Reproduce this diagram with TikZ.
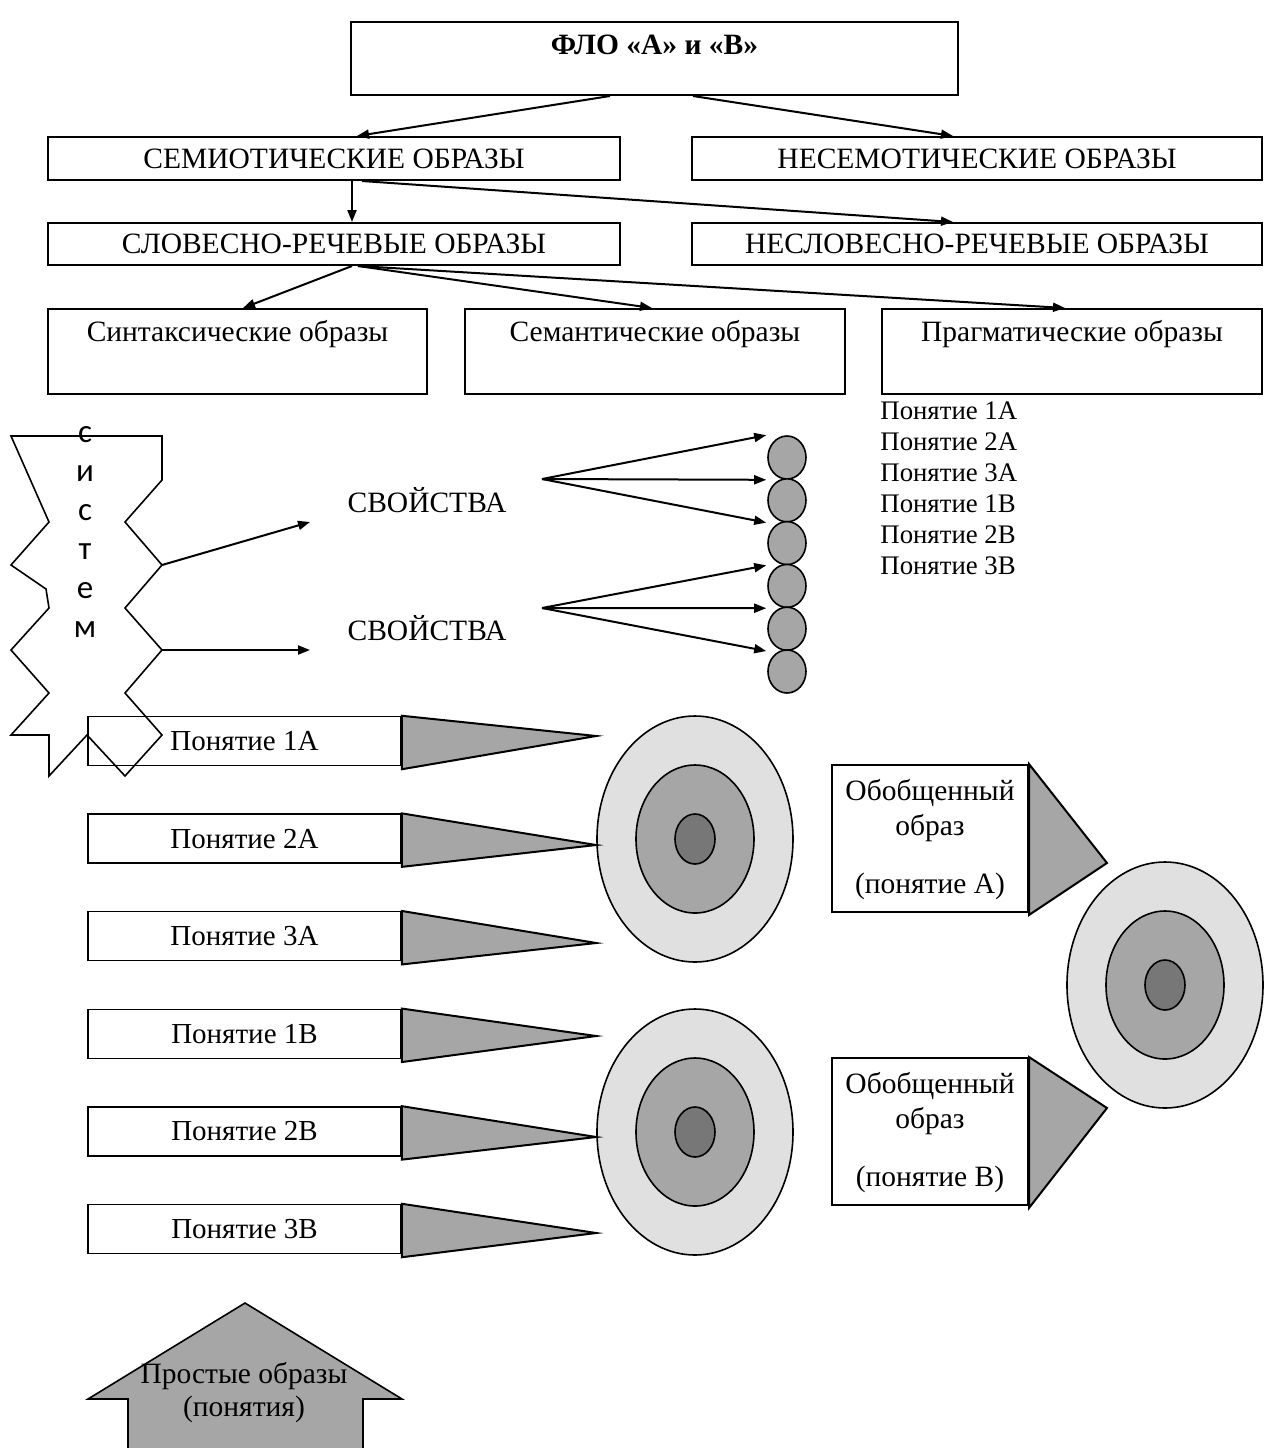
\documentclass[tikz,border=0pt]{standalone}
\usepackage{fontspec}
\setmainfont{Liberation Serif}
\newfontfamily\sansC{Carlito}
\usetikzlibrary{arrows.meta,shapes.geometric}
\definecolor{gLight}{RGB}{224,224,224}
\definecolor{gMid}{RGB}{166,166,166}
\definecolor{gDark}{RGB}{119,119,119}
\tikzset{
  box/.style={draw, line width=1pt, inner sep=0pt, font=\fontsize{14.75}{17}\selectfont},
  pbox/.style={draw, line width=0.75pt, inner sep=0pt, minimum width=156.5pt, minimum height=24.5pt, font=\fontsize{14.5}{17}\selectfont},
  txt/.style={inner sep=0pt, font=\fontsize{14.75}{17}\selectfont},
  smalltxt/.style={inner sep=0pt, font=\fontsize{13.4}{15.5}\selectfont},
  sanstxt/.style={inner sep=0pt, font=\sansC\fontsize{16.5}{19}\selectfont},
  arr/.style={line width=1pt, -{Triangle[length=6pt,width=4.5pt]}},
  tri/.style={draw, line width=1pt, fill=gMid, line join=miter},
  dotc/.style={ellipse, draw, line width=0.8pt, fill=gMid, inner sep=0pt, minimum width=19pt, minimum height=21.5pt},
  ringO/.style={ellipse, draw, line width=0.8pt, fill=gLight, inner sep=0pt, minimum width=98pt, minimum height=123pt},
  ringM/.style={ellipse, draw, line width=0.8pt, fill=gMid, inner sep=0pt, minimum width=59pt, minimum height=74pt},
  ringI/.style={ellipse, draw, line width=0.8pt, fill=gDark, inner sep=0pt, minimum width=20pt, minimum height=25pt},
}
\begin{document}
\begin{tikzpicture}[x=0.5pt,y=-0.5pt]
\useasboundingbox (0,0) rectangle (1268,1448);

% ---- hierarchy ----
\node[box, minimum width=303.5pt, minimum height=36.5pt] (flo) at (654.5,58.5) {};
\node[txt, font=\bfseries\fontsize{14.75}{17}\selectfont, anchor=base] (flot) at ([yshift=-16.5pt]flo.north) {ФЛО «А» и «В»};

\node[box, minimum width=286pt, minimum height=21.5pt] (sem) at (334,158.5) {СЕМИОТИЧЕСКИЕ ОБРАЗЫ};
\node[box, minimum width=285pt, minimum height=21.5pt] (nesem) at (977,158.5) {НЕСЕМОТИЧЕСКИЕ ОБРАЗЫ};
\node[box, minimum width=286pt, minimum height=21pt] (slov) at (334,244) {СЛОВЕСНО-РЕЧЕВЫЕ ОБРАЗЫ};
\node[box, minimum width=285pt, minimum height=21pt] (neslov) at (977,244) {НЕСЛОВЕСНО-РЕЧЕВЫЕ ОБРАЗЫ};

\node[box, minimum width=189.5pt, minimum height=42.5pt] (syn) at (237.5,351.5) {};
\node[box, minimum width=190pt, minimum height=42.5pt] (semant) at (655,351.5) {};
\node[box, minimum width=190pt, minimum height=42.5pt] (prag) at (1072,351.5) {};
\node[txt, anchor=base] (synt) at ([yshift=-16.5pt]syn.north) {Синтаксические образы};
\node[txt, anchor=base] (semantt) at ([yshift=-16.5pt]semant.north) {Семантические образы};
\node[txt, anchor=base] (pragt) at ([yshift=-16.5pt]prag.north) {Прагматические образы};

\draw[arr] ([xshift=-22.25pt]flo.south) -- ([xshift=11.5pt]sem.north);
\draw[arr] ([xshift=19.25pt]flo.south) -- ([xshift=-12pt]nesem.north);
\draw[arr] ([xshift=9pt]sem.south) -- ([xshift=9pt]slov.north);
\draw[arr] ([xshift=14pt]sem.south) -- ([xshift=-12pt]neslov.north);
\draw[arr] ([xshift=9pt]slov.south) -- ([xshift=2.75pt]syn.north);
\draw[arr] ([xshift=12pt]slov.south) -- ([xshift=-1.5pt]semant.north);
\draw[arr] ([xshift=12pt]slov.south) -- ([xshift=-3.5pt]prag.north);

% ---- list under pragmatic ----
\foreach \i/\t/\yy in {1/Понятие 1А/419, 2/Понятие 2А/450, 3/Понятие 3А/481, 4/Понятие 1В/512, 5/Понятие 2В/543, 6/Понятие 3В/574}
  \node[smalltxt, anchor=base west] (l\i) at (880,\yy) {\t};

% ---- jagged "system" shape ----
\draw[line width=0.8pt, line join=miter]
  (11,436) -- (162,436) -- (162,480) -- (125,522) -- (162,565) -- (125,608) -- (162,650)
  -- (125,693) -- (162,735) -- (125,776) -- (87,735) -- (49,776) -- (49,735) -- (11,735)
  -- (49,693) -- (11,650) -- (49,608) -- (46,589) -- (11,565) -- (49,522) -- cycle;
\foreach \i/\t/\yy in {1/с/442, 2/и/481, 3/с/520, 4/т/559, 5/е/598, 6/м/637}
  \node[sanstxt, anchor=base] (sl\i) at (85,\yy) {\t};

\coordinate (j1) at (162,565);
\coordinate (j2) at (162,650);
\coordinate (e1) at (310,522);
\coordinate (e2) at (310,650);
\node[txt, anchor=base] (sv1) at (427,512) {СВОЙСТВА};
\node[txt, anchor=base] (sv2) at (427,640) {СВОЙСТВА};
\draw[arr] (j1) -- (e1);
\draw[arr] (j2) -- (e2);

% ---- dots ----
\foreach \i/\yy in {1/457.5, 2/500.3, 3/543.1, 4/585.9, 5/628.7, 6/671.5}
  \node[dotc] (c\i) at (787,\yy) {};
\coordinate (s1) at (542,479);
\coordinate (s2) at (542,608);
\draw[arr] (s1) -- ([xshift=-0.5pt]c1.west |- c1.north);
\draw[arr] (s1) -- ([xshift=-0.5pt]c1.west |- c1.south);
\draw[arr] (s1) -- ([xshift=-0.5pt]c2.west |- c2.south);
\draw[arr] (s2) -- ([xshift=-0.5pt]c3.west |- c3.south);
\draw[arr] (s2) -- ([xshift=-0.5pt]c4.west |- c4.south);
\draw[arr] (s2) -- ([xshift=-0.5pt]c5.west |- c5.south);

% ---- targets ----
\node[ringO] (tA) at (695,839) {};
\node[ringM] (tAm) at (695,839) {};
\node[ringI] (tAi) at (695,839) {};
\node[ringO] (tB) at (695,1132) {};
\node[ringM] (tBm) at (695,1132) {};
\node[ringI] (tBi) at (695,1132) {};
\node[ringO] (tR) at (1165,985) {};
\node[ringM] (tRm) at (1165,985) {};
\node[ringI] (tRi) at (1165,985) {};

% ---- concept boxes ----
\node[pbox] (p1) at (244.5,741) {Понятие 1А};
\node[pbox] (p2) at (244.5,838.6) {Понятие 2А};
\node[pbox] (p3) at (244.5,936.2) {Понятие 3А};
\node[pbox] (p4) at (244.5,1033.8) {Понятие 1В};
\node[pbox] (p5) at (244.5,1131.4) {Понятие 2В};
\node[pbox] (p6) at (244.5,1229) {Понятие 3В};

\draw[tri] (p1.north east) -- ([yshift=51.5pt]tA.west) -- ([yshift=-1.5pt]p1.south east) -- cycle;
\draw[tri] (p2.north east) -- ([yshift=-3pt]tA.west) -- ([yshift=-1.5pt]p2.south east) -- cycle;
\draw[tri] (p3.north east) -- ([yshift=-52pt]tA.west) -- ([yshift=-1.5pt]p3.south east) -- cycle;
\draw[tri] (p4.north east) -- ([yshift=48pt]tB.west) -- ([yshift=-1.5pt]p4.south east) -- cycle;
\draw[tri] (p5.north east) -- ([yshift=-2.5pt]tB.west) -- ([yshift=-1.5pt]p5.south east) -- cycle;
\draw[tri] (p6.north east) -- ([yshift=-50.5pt]tB.west) -- ([yshift=-1.5pt]p6.south east) -- cycle;

% ---- generalised images ----
\node[box, minimum width=98pt, minimum height=73.5pt] (gA) at (930,838.5) {};
\node[box, minimum width=98pt, minimum height=73.5pt] (gB) at (930,1131.5) {};
\draw[tri] (gA.north east) -- ([xshift=39pt,yshift=-12.25pt]gA.east) -- ([yshift=-1pt]gA.south east) -- cycle;
\draw[tri] (gB.north east) -- ([xshift=39pt,yshift=11.75pt]gB.east) -- ([yshift=-1pt]gB.south east) -- cycle;
\node[txt, anchor=base] (gA1) at ([yshift=-18pt]gA.north) {Обобщенный};
\node[txt, anchor=base] (gA2) at ([yshift=-35.5pt]gA.north) {образ};
\node[txt, anchor=base] (gA3) at ([yshift=-64.5pt]gA.north) {(понятие А)};
\node[txt, anchor=base] (gB1) at ([yshift=-18pt]gB.north) {Обобщенный};
\node[txt, anchor=base] (gB2) at ([yshift=-35.5pt]gB.north) {образ};
\node[txt, anchor=base] (gB3) at ([yshift=-64.5pt]gB.north) {(понятие В)};

% ---- bottom arrow ----
\fill[gMid] (245,1303) -- (402,1399) -- (363,1399) -- (363,1460) -- (128,1460) -- (128,1399) -- (88,1399) -- cycle;
\draw[line width=0.8pt, line join=miter] (128,1460) -- (128,1399) -- (88,1399) -- (245,1303) -- (402,1399) -- (363,1399) -- (363,1460);
\node[txt, anchor=base] (pr1) at (244,1383) {Простые образы};
\node[txt, anchor=base] (pr2) at (244,1416) {(понятия)};
\end{tikzpicture}
\end{document}
